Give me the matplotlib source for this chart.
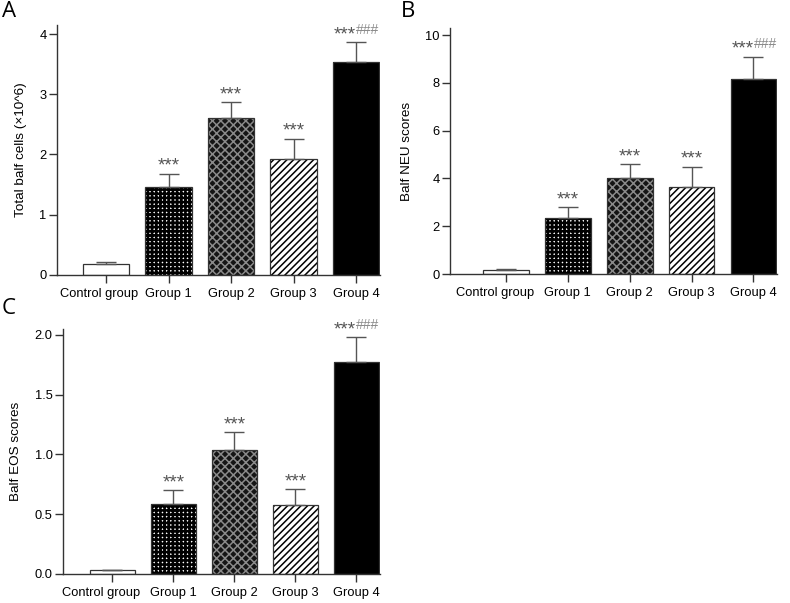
import matplotlib
matplotlib.use("Agg")
import matplotlib.pyplot as plt
import matplotlib.transforms as mtrans

plt.rcParams['font.family'] = ['Liberation Sans', 'DejaVu Sans']
plt.rcParams['hatch.linewidth'] = 1.3

categories = ["Control group", "Group 1", "Group 2", "Group 3", "Group 4"]

total_cells = [0.19, 1.46, 2.60, 1.92, 3.54]
total_cells_err = [0.03, 0.22, 0.27, 0.34, 0.32]

neu_scores = [0.17, 2.35, 4.03, 3.65, 8.15]
neu_err = [0.04, 0.45, 0.57, 0.85, 0.95]

eos_scores = [0.03, 0.585, 1.04, 0.575, 1.77]
eos_err = [0.005, 0.115, 0.145, 0.135, 0.21]

sig_labels = ["", "***", "***", "***", "***"]
hash_labels = ["", "", "", "", "###"]

face = ["white", "white", "#151515", "white", "black"]
hatch_col = ["white", "black", "#8a8a8a", "black", "black"]
hatches = [None, "++++", "xxxx", "/////", None]
hatch_lw = [1.0, 1.9, 1.1, 1.1, 1.0]

fig = plt.figure(figsize=(7.9, 6.03), dpi=100)

def panel(rect, vals, errs, ylim, yticks, yticklabels, ylabel, xlim, letter,
          letter_pos, first_shift_px):
    ax = fig.add_axes(rect)
    x = list(range(len(categories)))
    w = 0.74
    for i in x:
        b = ax.bar(i, vals[i], width=w, color=face[i], hatch=hatches[i],
                   edgecolor=hatch_col[i], linewidth=0, zorder=2)
        for p in b.patches:
            if hasattr(p, "set_hatch_linewidth"):
                p.set_hatch_linewidth(hatch_lw[i])
        ax.bar(i, vals[i], width=w, fill=False, edgecolor="#333333",
               linewidth=0.9, zorder=3)
    ax.errorbar(x, vals, yerr=[[0]*len(vals), errs], fmt="none",
                ecolor="#555555", elinewidth=1.0, capsize=7.2, capthick=1.0, zorder=4)
    for i in x:
        top = vals[i] + errs[i]
        if sig_labels[i] and hash_labels[i]:
            ax.annotate(sig_labels[i], xy=(i, top), xytext=(0, 2.2),
                        textcoords="offset points", ha="right", va="baseline",
                        fontsize=13.5, color="#555555")
            ax.annotate(hash_labels[i], xy=(i, top), xytext=(0, 6.0),
                        textcoords="offset points", ha="left", va="baseline",
                        fontsize=10, color="#8a8a8a")
        elif sig_labels[i]:
            ax.annotate(sig_labels[i], xy=(i, top), xytext=(0, 2.2),
                        textcoords="offset points", ha="center", va="baseline",
                        fontsize=13.5, color="#555555")
    ax.set_xlim(*xlim)
    ax.set_ylim(*ylim)
    ax.set_xticks(x)
    ax.set_xticklabels(categories, fontsize=9.3)
    ax.set_yticks(yticks)
    ax.set_yticklabels(yticklabels, fontsize=9.3)
    ax.set_ylabel(ylabel, fontsize=9.7, labelpad=9)
    for s in ["top", "right"]:
        ax.spines[s].set_visible(False)
    for s in ["left", "bottom"]:
        ax.spines[s].set_color("#333333")
        ax.spines[s].set_linewidth(1.0)
    ax.tick_params(axis="both", color="#333333", length=5.5, width=1.0, pad=2)
    ax.tick_params(axis="x", pad=4)
    lab = ax.get_xticklabels()[0]
    lab.set_transform(lab.get_transform() +
                      mtrans.ScaledTranslation(first_shift_px / 100.0, 0,
                                               fig.dpi_scale_trans))
    fig.text(letter_pos[0], letter_pos[1], letter, fontsize=16,
             family=["Open Sans", "DejaVu Sans"], ha="left", va="top")
    return ax

panel([0.0722, 0.544, 0.4088, 0.4146], total_cells, total_cells_err,
      (0, 4.15), [0, 1, 2, 3, 4], ["0", "1", "2", "3", "4"],
      "Total balf cells (\u00d710^6)", (-0.784, 4.384), "A", (0.002, 0.998), -7)

panel([0.5696, 0.5456, 0.4139, 0.408], neu_scores, neu_err,
      (0, 10.3), [0, 2, 4, 6, 8, 10], ["0", "2", "4", "6", "8", "10"],
      "Balf NEU scores", (-0.905, 4.38), "B", (0.508, 0.998), -11)

panel([0.0797, 0.0481, 0.4013, 0.4066], eos_scores, eos_err,
      (0, 2.05), [0, 0.5, 1.0, 1.5, 2.0], ["0.0", "0.5", "1.0", "1.5", "2.0"],
      "Balf EOS scores", (-0.81, 4.39), "C", (0.002, 0.505), -11)

fig.savefig("out.png", dpi=100)
